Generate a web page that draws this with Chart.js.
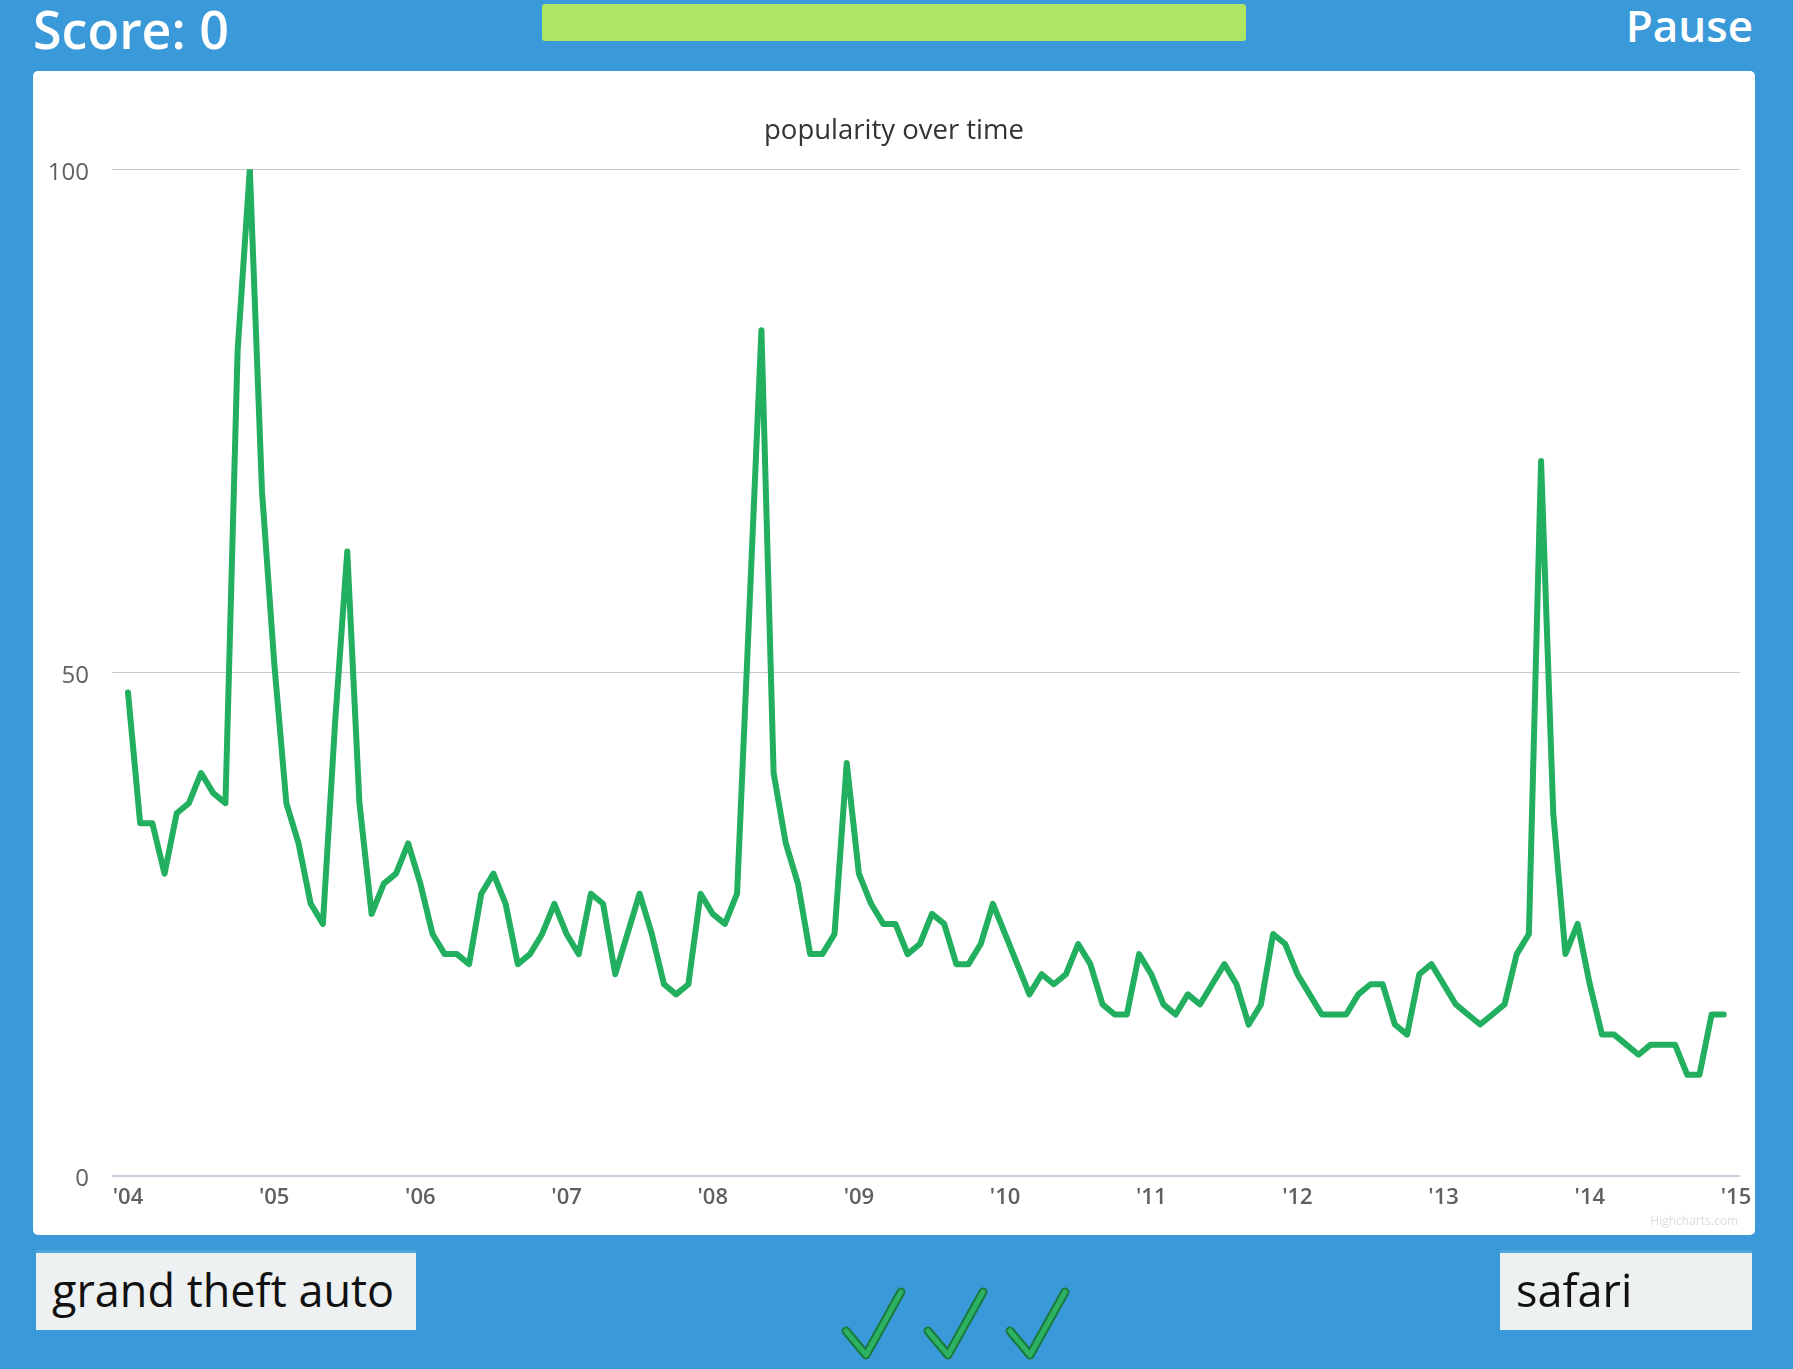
<!DOCTYPE html>
<html>
<head>
<meta charset="utf-8">
<title>popularity over time</title>
<script src="https://cdn.jsdelivr.net/npm/chart.js@4.4.1/dist/chart.umd.min.js"></script>
<style>
  html, body { margin: 0; padding: 0; }
  body {
    width: 1793px; height: 1369px; overflow: hidden; position: relative;
    background: #3a9ad9; font-family: 'Open Sans', sans-serif;
  }
  .top-text { position: absolute; color: #fff; font-weight: 600; line-height: 1; white-space: nowrap; }
  #score { left: 33px; top: 3px; font-size: 52px; }
  #pause { right: 40px; top: 3px; font-size: 44px; }
  #timer { position: absolute; left: 542px; top: 4px; width: 704px; height: 37px; background: #aee565; border-radius: 3px; }
  #card {
    position: absolute; left: 33px; top: 71px; width: 1722px; height: 1164px;
    background: #fff; border-radius: 5px; overflow: hidden;
  }
  #credit { position: absolute; right: 17px; top: 1141px; font-size: 12px; color: #dcdcdc; }
  .answer {
    position: absolute; top: 1253px; height: 77px; background: #eef1f1;
    box-shadow: 0 -3px 0 rgba(255,255,255,0.12);
  }
  .answer span {
    position: absolute; left: 16px; top: 14px; font-size: 45px; line-height: 1;
    font-weight: 500; color: #111; white-space: nowrap;
  }
  #left-answer { left: 36px; width: 380px; }
  #right-answer { left: 1500px; width: 252px; }
  #checks { position: absolute; left: 0; top: 0; }
</style>
</head>
<body>
<div id="score" class="top-text">Score: 0</div>
<div id="timer"></div>
<div id="pause" class="top-text">Pause</div>

<div id="card">
  <canvas id="chart" width="1722" height="1164"></canvas>
  <div id="credit">Highcharts.com</div>
</div>

<div id="left-answer" class="answer"><span>grand theft auto</span></div>
<div id="right-answer" class="answer"><span>safari</span></div>

<svg id="checks" width="1793" height="1369">
  <g id="check0" fill="none" stroke-linecap="round" stroke-linejoin="round">
    <path d="M846 1331 L866 1355 L901 1292" stroke="#1a7a3e" stroke-width="9"/>
    <path d="M846 1331 L866 1355 L901 1292" stroke="#2cb262" stroke-width="5"/>
  </g>
  <use href="#check0" x="82" y="0"/>
  <use href="#check0" x="164" y="0"/>
</svg>

<script>
/* ── DATA ───────────────────────────────────────────────────────────── */
// monthly search popularity, Jan 2004 – Dec 2014
const popularity = [
  48, 35, 35, 30, 36, 37, 40, 38, 37, 82, 100, 68,   // 2004
  51, 37, 33, 27, 25, 45, 62, 37, 26, 29, 30, 33,    // 2005
  29, 24, 22, 22, 21, 28, 30, 27, 21, 22, 24, 27,    // 2006
  24, 22, 28, 27, 20, 24, 28, 24, 19, 18, 19, 28,    // 2007
  26, 25, 28, 56, 84, 40, 33, 29, 22, 22, 24, 41,    // 2008
  30, 27, 25, 25, 22, 23, 26, 25, 21, 21, 23, 27,    // 2009
  24, 21, 18, 20, 19, 20, 23, 21, 17, 16, 16, 22,    // 2010
  20, 17, 16, 18, 17, 19, 21, 19, 15, 17, 24, 23,    // 2011
  20, 18, 16, 16, 16, 18, 19, 19, 15, 14, 20, 21,    // 2012
  19, 17, 16, 15, 16, 17, 22, 24, 71, 36, 22, 25,    // 2013
  19, 14, 14, 13, 12, 13, 13, 13, 10, 10, 16, 16     // 2014
];
const yearLabels = ["'04", "'05", "'06", "'07", "'08", "'09", "'10", "'11", "'12", "'13", "'14", "'15"];
const yTicks     = [0, 50, 100];

const LINE  = '#22af5f';
const GRID  = '#c9c9c9';
const AXIS  = '#c9d0dd';
const LABEL = '#606060';

/* ── CHART ──────────────────────────────────────────────────────────── */
Chart.defaults.font.family = "'Open Sans', sans-serif";

new Chart(document.getElementById('chart'), {
  type: 'line',
  data: {
    datasets: [{
      label: 'popularity',
      data: popularity.map((v, i) => ({ x: i, y: v })),
      borderColor: LINE,
      borderWidth: 6,
      borderJoinStyle: 'round',
      borderCapStyle: 'round',
      pointRadius: 0,
      tension: 0,
      fill: false,
    }],
  },
  options: {
    responsive: false,
    animation: false,
    layout: { padding: 0 },
    plugins: {
      legend: { display: false },
      tooltip: { enabled: false },
      title: {
        display: true,
        text: 'popularity over time',
        color: '#333',
        font: { size: 27.5, weight: 'normal', lineHeight: 1.2 },
        padding: { top: 44, bottom: 21.2 },
      },
    },
    scales: {
      x: {
        type: 'linear',
        min: -1.313,
        max: 132.33,
        afterFit: s => { s.height = 59.5; s.paddingLeft = 0; s.paddingRight = 0; },
        afterBuildTicks: s => { s.ticks = yearLabels.map((_, k) => ({ value: k * 12 })); },
        ticks: {
          autoSkip: false, maxRotation: 0, padding: 9,
          color: LABEL, font: { size: 22, weight: '600' },
          callback: (v, i) => yearLabels[i],
        },
        grid: { display: false, drawTicks: false },
        border: { display: false },
      },
      y: {
        min: 0,
        max: 100,
        afterFit: s => { s.width = 79; s.paddingTop = 0; s.paddingBottom = 0; },
        afterBuildTicks: s => { s.ticks = yTicks.map(v => ({ value: v })); },
        ticks: {
          padding: 23, labelOffset: 4,
          color: LABEL, font: { size: 24, weight: 'normal' },
        },
        grid: {
          drawTicks: false,
          color: c => c.tick && c.tick.value === 0 ? AXIS : GRID,
          lineWidth: c => c.tick && c.tick.value === 0 ? 2 : 1,
        },
        border: { display: false },
      },
      // empty right-hand strip so the title stays centred on the whole card
      yRight: {
        position: 'right',
        min: 0,
        max: 100,
        afterFit: s => { s.width = 15; s.paddingTop = 0; s.paddingBottom = 0; },
        ticks: { display: false },
        grid: { display: false, drawTicks: false },
        border: { display: false },
      },
    },
  },
});
</script>
</body>
</html>
